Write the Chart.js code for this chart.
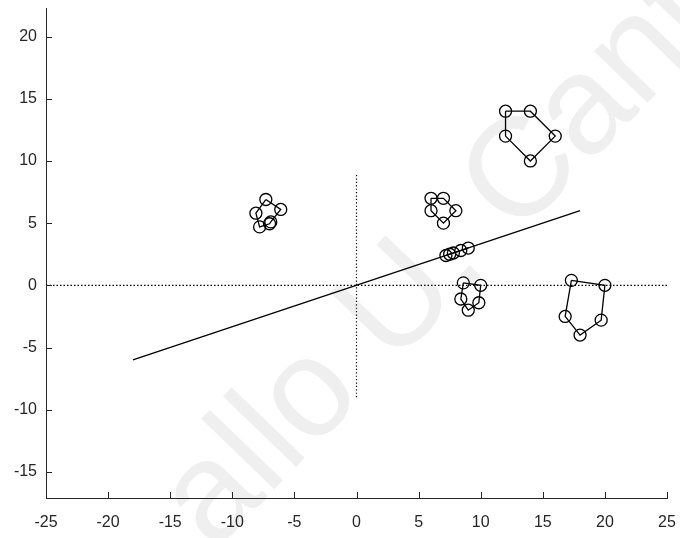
<!DOCTYPE html>
<html>
<head>
<meta charset="utf-8">
<script src="https://cdn.jsdelivr.net/npm/chart.js@4.4.0/dist/chart.umd.min.js"></script>
<style>
  html, body { margin: 0; padding: 0; background: #fff; }
</style>
</head>
<body>
<canvas id="myChart" width="680" height="538"></canvas>
<script>
  /* Data
  -----------------------------------------------*/
  const xTicks = [-25, -20, -15, -10, -5, 0, 5, 10, 15, 20, 25];
  const yTicks = [-15, -10, -5, 0, 5, 10, 15, 20];

  // reference lines
  const fitLineX = [-18, 18];
  const fitLineY = [-6, 6];
  const hLineX = [-25, 25];
  const hLineY = [0, 0];
  const vLineX = [0, 0];
  const vLineY = [-9, 9];

  // point groups (closed polygons)
  const bigTopX = [12, 14, 16, 14, 12];
  const bigTopY = [14, 14, 12, 10, 12];
  const bigRightX = [17.3, 20, 19.7, 18, 16.8];
  const bigRightY = [0.4, 0, -2.8, -4, -2.5];
  const smallTopX = [6, 7, 8, 7, 6];
  const smallTopY = [7, 7, 6, 5, 6];
  const onLineX = [7.2, 7.5, 7.8, 8.4, 9];
  const onLineY = [2.4, 2.5, 2.6, 2.8, 3];
  const smallLowX = [8.6, 10, 9.85, 9, 8.4];
  const smallLowY = [0.2, 0, -1.4, -2, -1.1];
  const leftX = [-7.3, -6.1, -6.9, -7.0, -7.8, -8.1];
  const leftY = [6.9, 6.1, 5.1, 4.95, 4.7, 5.8];

  const ink = '#000000';
  const axisInk = '#262626';

  function pts(xs, ys) {
    return xs.map((x, i) => ({ x: x, y: ys[i] }));
  }

  function lineSet(xs, ys, dash) {
    return {
      data: pts(xs, ys),
      showLine: true,
      borderColor: ink,
      borderWidth: dash ? 1.2 : 1.3,
      borderDash: dash || [],
      pointRadius: 0,
      fill: false
    };
  }

  function polySet(xs, ys) {
    let d = pts(xs, ys);
    d.push({ x: xs[0], y: ys[0] });
    let r = xs.map(() => 6);
    r.push(0);
    return {
      data: d,
      showLine: true,
      borderColor: ink,
      borderWidth: 1.3,
      pointRadius: r,
      pointStyle: 'circle',
      pointBorderColor: ink,
      pointBackgroundColor: 'rgba(0,0,0,0)',
      pointBorderWidth: 1.3,
      fill: false
    };
  }

  /* Watermark behind the plot
  -----------------------------------------------*/
  const watermark = {
    id: 'watermark',
    beforeDraw(chart) {
      const ctx = chart.ctx;
      ctx.save();
      ctx.translate(440, 262);
      ctx.rotate(-46 * Math.PI / 180);
      ctx.font = '140px "Liberation Sans", Arial, sans-serif';
      ctx.fillStyle = '#efefef';
      ctx.textAlign = 'center';
      ctx.textBaseline = 'middle';
      ctx.fillText('allo U. Cant', 0, 0);
      ctx.restore();
    }
  };

  /* Ticks pointing inward
  -----------------------------------------------*/
  const innerTicks = {
    id: 'innerTicks',
    afterDraw(chart) {
      const ctx = chart.ctx, a = chart.chartArea;
      const xs = chart.scales.x, ys = chart.scales.y;
      ctx.save();
      ctx.strokeStyle = axisInk;
      ctx.lineWidth = 1;
      ctx.beginPath();
      xTicks.forEach(v => {
        const px = Math.round(xs.getPixelForValue(v)) + 0.5;
        ctx.moveTo(px, a.bottom);
        ctx.lineTo(px, a.bottom - 6);
      });
      yTicks.forEach(v => {
        const py = Math.round(ys.getPixelForValue(v)) + 0.5;
        ctx.moveTo(a.left, py);
        ctx.lineTo(a.left + 6, py);
      });
      ctx.stroke();
      ctx.restore();
    }
  };

  let ctx = document.getElementById('myChart').getContext('2d');
  let myChart = new Chart(ctx, {
    type: 'scatter',
    data: {
      datasets: [
        lineSet(hLineX, hLineY, [1.5, 2]),
        lineSet(vLineX, vLineY, [1.2, 2.2]),
        lineSet(fitLineX, fitLineY),
        polySet(bigTopX, bigTopY),
        polySet(bigRightX, bigRightY),
        polySet(smallTopX, smallTopY),
        polySet(onLineX, onLineY),
        polySet(smallLowX, smallLowY),
        polySet(leftX, leftY)
      ]
    },
    options: {
      responsive: false,
      animation: false,
      devicePixelRatio: 1,
      layout: { padding: { top: 8, right: 13, left: 0, bottom: 0 } },
      plugins: {
        legend: { display: false },
        tooltip: { enabled: false }
      },
      scales: {
        x: {
          type: 'linear',
          min: -25,
          max: 25,
          afterBuildTicks: s => { s.ticks = xTicks.map(v => ({ value: v })); },
          afterFit: s => { s.height = 40; s.paddingLeft = 0; s.paddingRight = 0; },
          grid: { display: false, drawTicks: false },
          border: { display: true, color: axisInk, width: 1 },
          ticks: {
            padding: 15,
            color: axisInk,
            font: { family: '"Liberation Sans", Arial, sans-serif', size: 16 },
            maxRotation: 0
          }
        },
        y: {
          type: 'linear',
          min: -17.1,
          max: 22.3,
          afterBuildTicks: s => { s.ticks = yTicks.map(v => ({ value: v })); },
          afterFit: s => { s.width = 46; s.paddingTop = 0; s.paddingBottom = 0; },
          grid: { display: false, drawTicks: false },
          border: { display: true, color: axisInk, width: 1 },
          ticks: {
            padding: 9,
            color: axisInk,
            font: { family: '"Liberation Sans", Arial, sans-serif', size: 16 }
          }
        }
      }
    },
    plugins: [watermark, innerTicks]
  });
</script>
</body>
</html>
